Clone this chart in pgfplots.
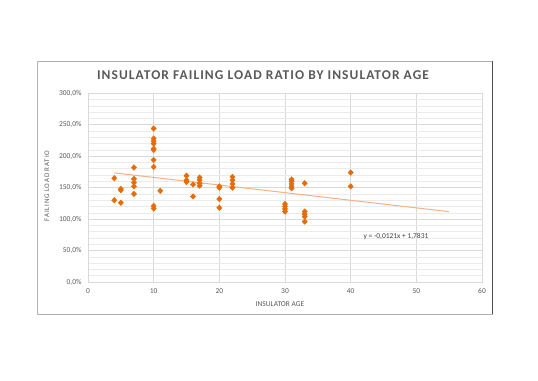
\documentclass[border=0pt]{standalone}
\usepackage{fontspec}
\setmainfont{Carlito}
\usepackage{pgfplots}
\pgfplotsset{compat=1.18}
\definecolor{txt}{HTML}{595959}
\definecolor{grd}{HTML}{D9D9D9}
\definecolor{mgrd}{HTML}{EBEBEB}
\definecolor{mk}{HTML}{E46C0A}
\definecolor{tl}{HTML}{F4B183}
\begin{document}
\begin{tikzpicture}[x=1bp,y=1bp]
\path[use as bounding box] (0,0) rectangle (538,380);
\draw[color=black!30, line width=0.8bp] (37,66) rectangle (492,319);
\draw[color=black!70, line width=1bp] (492,66) -- (492,319);
\node[font={\fontsize{13.5}{14}\selectfont\bfseries\addfontfeatures{LetterSpace=8}}, text=txt] at (263,305) {INSULATOR FAILING LOAD RATIO BY INSULATOR AGE};
\node[font={\fontsize{7}{8}\selectfont\addfontfeatures{LetterSpace=12}}, text=txt, rotate=90] at (47,194) {FAILING LOAD RATIO};
\node[font={\fontsize{7.5}{8}\selectfont}, text=txt] at (280,76) {INSULATOR AGE};
\begin{axis}[
  at={(88bp,98bp)}, anchor=south west, scale only axis,
  width=394bp, height=188.7bp,
  xmin=0, xmax=60, ymin=0, ymax=300,
  xtick={0,10,20,30,40,50,60},
  xticklabels={0,10,20,30,40,50,60},
  ytick={0,50,100,150,200,250,300},
  yticklabels={{0,0\%},{50,0\%},{100,0\%},{150,0\%},{200,0\%},{250,0\%},{300,0\%}},
  minor ytick={10,20,30,40,60,70,80,90,110,120,130,140,160,170,180,190,210,220,230,240,260,270,280,290},
  grid=both,
  major grid style={grd, line width=0.7bp},
  minor grid style={mgrd, line width=0.6bp},
  axis line style={grd, line width=0.7bp},
  major tick length=0pt, minor tick length=0pt,
  tick label style={font=\fontsize{7.5}{8}\selectfont, text=txt},
  xticklabel style={yshift=-3bp},
  yticklabel style={xshift=-3bp},
  clip=false,
]
\addplot[tl, line width=1bp] coordinates {(4,173.5) (55,111.8)};
\addplot[only marks, mark=diamond*, mark size=2.8bp, mk, mark options={fill=mk, draw=mk, xscale=1.25, line width=0.4bp}] coordinates {
(4,165) (4,130)
(5,148) (5,146) (5,126)
(7,182) (7,164) (7,158) (7,152) (7,140)
(10,244) (10,228) (10,224) (10,220) (10,212) (10,210) (10,194) (10,183) (10,121) (10,117)
(11,145)
(15,169) (15,162) (15,159)
(16,155) (16,136)
(17,166) (17,162) (17,157) (17,153)
(20,152) (20,150) (20,132) (20,118)
(22,167) (22,162) (22,156) (22,150)
(30,124) (30,120) (30,116) (30,112)
(31,163) (31,160) (31,156) (31,152) (31,149)
(33,157) (33,112) (33,108) (33,104) (33,96)
(40,174) (40,152)
};
\node[font=\fontsize{7.5}{8}\selectfont, text=black!75] at (axis cs:46.9,73) {y = -0,0121x + 1,7831};
\end{axis}
\end{tikzpicture}
\end{document}
